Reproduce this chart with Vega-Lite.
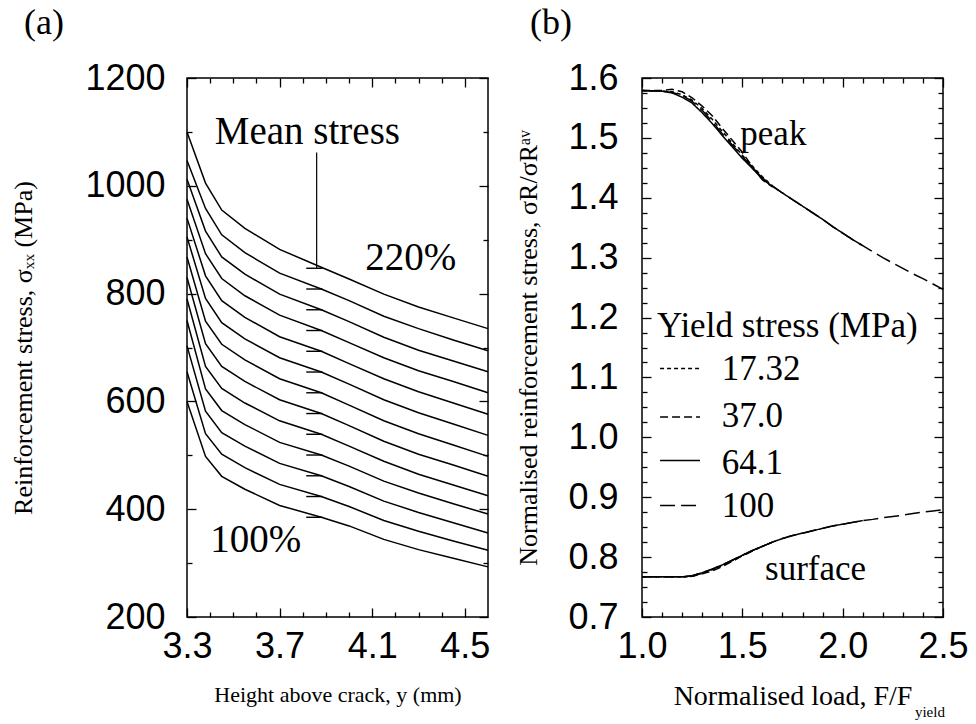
{
  "$schema": "https://vega.github.io/schema/vega-lite/v6.json",
  "background": "white",
  "padding": {"left": 10, "top": 4, "right": 0, "bottom": 0},
  "spacing": 154,
  "bounds": "flush",
  "datasets": {
    "stressProfiles": [
      {"load":100,"height":3.3,"stress":600},{"load":100,"height":3.38,"stress":498},{"load":100,"height":3.45,"stress":461},{"load":100,"height":3.55,"stress":437},{"load":100,"height":3.7,"stress":407},{"load":100,"height":3.88,"stress":385},{"load":100,"height":4.0,"stress":369},{"load":100,"height":4.15,"stress":344},{"load":100,"height":4.3,"stress":325},{"load":100,"height":4.45,"stress":309},{"load":100,"height":4.6,"stress":293},
      {"load":110,"height":3.3,"stress":655},{"load":110,"height":3.38,"stress":540},{"load":110,"height":3.45,"stress":502},{"load":110,"height":3.55,"stress":477},{"load":110,"height":3.7,"stress":446},{"load":110,"height":3.88,"stress":423.5},{"load":110,"height":4.0,"stress":405},{"load":110,"height":4.15,"stress":379},{"load":110,"height":4.3,"stress":359},{"load":110,"height":4.45,"stress":341},{"load":110,"height":4.6,"stress":324},
      {"load":120,"height":3.3,"stress":703},{"load":120,"height":3.38,"stress":582},{"load":120,"height":3.45,"stress":542},{"load":120,"height":3.55,"stress":517},{"load":120,"height":3.7,"stress":485},{"load":120,"height":3.88,"stress":462},{"load":120,"height":4.0,"stress":442},{"load":120,"height":4.15,"stress":415},{"load":120,"height":4.3,"stress":394},{"load":120,"height":4.45,"stress":375},{"load":120,"height":4.6,"stress":356},
      {"load":130,"height":3.3,"stress":750},{"load":130,"height":3.38,"stress":623},{"load":130,"height":3.45,"stress":583},{"load":130,"height":3.55,"stress":557},{"load":130,"height":3.7,"stress":524},{"load":130,"height":3.88,"stress":500.5},{"load":130,"height":4.0,"stress":480},{"load":130,"height":4.15,"stress":452},{"load":130,"height":4.3,"stress":430},{"load":130,"height":4.45,"stress":410},{"load":130,"height":4.6,"stress":391},
      {"load":140,"height":3.3,"stress":790},{"load":140,"height":3.38,"stress":665},{"load":140,"height":3.45,"stress":624},{"load":140,"height":3.55,"stress":597},{"load":140,"height":3.7,"stress":564},{"load":140,"height":3.88,"stress":539},{"load":140,"height":4.0,"stress":517},{"load":140,"height":4.15,"stress":489},{"load":140,"height":4.3,"stress":465},{"load":140,"height":4.45,"stress":445},{"load":140,"height":4.6,"stress":425},
      {"load":150,"height":3.3,"stress":830},{"load":150,"height":3.38,"stress":707},{"load":150,"height":3.45,"stress":665},{"load":150,"height":3.55,"stress":637},{"load":150,"height":3.7,"stress":603},{"load":150,"height":3.88,"stress":577.5},{"load":150,"height":4.0,"stress":555},{"load":150,"height":4.15,"stress":526},{"load":150,"height":4.3,"stress":502},{"load":150,"height":4.45,"stress":482},{"load":150,"height":4.6,"stress":461},
      {"load":160,"height":3.3,"stress":868},{"load":160,"height":3.38,"stress":749},{"load":160,"height":3.45,"stress":706},{"load":160,"height":3.55,"stress":677},{"load":160,"height":3.7,"stress":642},{"load":160,"height":3.88,"stress":616},{"load":160,"height":4.0,"stress":593},{"load":160,"height":4.15,"stress":564},{"load":160,"height":4.3,"stress":540},{"load":160,"height":4.45,"stress":519},{"load":160,"height":4.6,"stress":498},
      {"load":170,"height":3.3,"stress":905},{"load":170,"height":3.38,"stress":791},{"load":170,"height":3.45,"stress":746},{"load":170,"height":3.55,"stress":716},{"load":170,"height":3.7,"stress":681},{"load":170,"height":3.88,"stress":654.5},{"load":170,"height":4.0,"stress":632},{"load":170,"height":4.15,"stress":603},{"load":170,"height":4.3,"stress":579},{"load":170,"height":4.45,"stress":558},{"load":170,"height":4.6,"stress":537},
      {"load":180,"height":3.3,"stress":940},{"load":180,"height":3.38,"stress":833},{"load":180,"height":3.45,"stress":787},{"load":180,"height":3.55,"stress":756},{"load":180,"height":3.7,"stress":720},{"load":180,"height":3.88,"stress":693},{"load":180,"height":4.0,"stress":670},{"load":180,"height":4.15,"stress":642},{"load":180,"height":4.3,"stress":618},{"load":180,"height":4.45,"stress":597},{"load":180,"height":4.6,"stress":576},
      {"load":190,"height":3.3,"stress":975},{"load":190,"height":3.38,"stress":874},{"load":190,"height":3.45,"stress":828},{"load":190,"height":3.55,"stress":796},{"load":190,"height":3.7,"stress":760},{"load":190,"height":3.88,"stress":731.5},{"load":190,"height":4.0,"stress":709},{"load":190,"height":4.15,"stress":681},{"load":190,"height":4.3,"stress":657},{"load":190,"height":4.45,"stress":637},{"load":190,"height":4.6,"stress":616},
      {"load":200,"height":3.3,"stress":1012},{"load":200,"height":3.38,"stress":916},{"load":200,"height":3.45,"stress":868},{"load":200,"height":3.55,"stress":836},{"load":200,"height":3.7,"stress":799},{"load":200,"height":3.88,"stress":770},{"load":200,"height":4.0,"stress":748},{"load":200,"height":4.15,"stress":719},{"load":200,"height":4.3,"stress":695},{"load":200,"height":4.45,"stress":675},{"load":200,"height":4.6,"stress":655},
      {"load":210,"height":3.3,"stress":1047},{"load":210,"height":3.38,"stress":958},{"load":210,"height":3.45,"stress":909},{"load":210,"height":3.55,"stress":876},{"load":210,"height":3.7,"stress":838},{"load":210,"height":3.88,"stress":808.5},{"load":210,"height":4.0,"stress":787},{"load":210,"height":4.15,"stress":758},{"load":210,"height":4.3,"stress":735},{"load":210,"height":4.45,"stress":714},{"load":210,"height":4.6,"stress":694},
      {"load":220,"height":3.3,"stress":1100},{"load":220,"height":3.38,"stress":1005},{"load":220,"height":3.45,"stress":955},{"load":220,"height":3.55,"stress":921},{"load":220,"height":3.7,"stress":882},{"load":220,"height":3.88,"stress":849},{"load":220,"height":4.0,"stress":827},{"load":220,"height":4.15,"stress":799},{"load":220,"height":4.3,"stress":775},{"load":220,"height":4.45,"stress":755},{"load":220,"height":4.6,"stress":735}
    ],
    "meanStress": [
      {"load":100,"mean":385},{"load":110,"mean":423.5},{"load":120,"mean":462},{"load":130,"mean":500.5},{"load":140,"mean":539},{"load":150,"mean":577.5},{"load":160,"mean":616},{"load":170,"mean":654.5},{"load":180,"mean":693},{"load":190,"mean":731.5},{"load":200,"mean":770},{"load":210,"mean":808.5},{"load":220,"mean":847}
    ],
    "panelANotes": [
      {"label":"Mean stress","height":3.42,"stress":1077},
      {"label":"220%","height":4.07,"stress":843},
      {"label":"100%","height":3.4,"stress":320}
    ],
    "normalisedStress": [
      {"yield":"17.32","location":"peak","load":1.0,"ratio":1.579},{"yield":"17.32","location":"peak","load":1.1,"ratio":1.578},{"yield":"17.32","location":"peak","load":1.15,"ratio":1.577},{"yield":"17.32","location":"peak","load":1.2,"ratio":1.572},{"yield":"17.32","location":"peak","load":1.25,"ratio":1.563},{"yield":"17.32","location":"peak","load":1.3,"ratio":1.549},{"yield":"17.32","location":"peak","load":1.35,"ratio":1.531},{"yield":"17.32","location":"peak","load":1.4,"ratio":1.511},{"yield":"17.32","location":"peak","load":1.45,"ratio":1.491},{"yield":"17.32","location":"peak","load":1.5,"ratio":1.471},{"yield":"17.32","location":"peak","load":1.55,"ratio":1.453},{"yield":"17.32","location":"peak","load":1.6,"ratio":1.435},{"yield":"17.32","location":"peak","load":1.65,"ratio":1.42},
      {"yield":"37.0","location":"peak","load":1.0,"ratio":1.579},{"yield":"37.0","location":"peak","load":1.1,"ratio":1.579},{"yield":"37.0","location":"peak","load":1.15,"ratio":1.581},{"yield":"37.0","location":"peak","load":1.2,"ratio":1.577},{"yield":"37.0","location":"peak","load":1.25,"ratio":1.567},{"yield":"37.0","location":"peak","load":1.3,"ratio":1.553},{"yield":"37.0","location":"peak","load":1.35,"ratio":1.537},{"yield":"37.0","location":"peak","load":1.4,"ratio":1.516},{"yield":"37.0","location":"peak","load":1.45,"ratio":1.496},{"yield":"37.0","location":"peak","load":1.5,"ratio":1.476},{"yield":"37.0","location":"peak","load":1.55,"ratio":1.452},{"yield":"37.0","location":"peak","load":1.6,"ratio":1.43},{"yield":"37.0","location":"peak","load":1.65,"ratio":1.418},
      {"yield":"64.1","location":"peak","load":1.0,"ratio":1.579},{"yield":"64.1","location":"peak","load":1.1,"ratio":1.578},{"yield":"64.1","location":"peak","load":1.15,"ratio":1.575},{"yield":"64.1","location":"peak","load":1.2,"ratio":1.568},{"yield":"64.1","location":"peak","load":1.25,"ratio":1.558},{"yield":"64.1","location":"peak","load":1.3,"ratio":1.542},{"yield":"64.1","location":"peak","load":1.35,"ratio":1.524},{"yield":"64.1","location":"peak","load":1.4,"ratio":1.504},{"yield":"64.1","location":"peak","load":1.45,"ratio":1.485},{"yield":"64.1","location":"peak","load":1.5,"ratio":1.466},{"yield":"64.1","location":"peak","load":1.55,"ratio":1.449},{"yield":"64.1","location":"peak","load":1.6,"ratio":1.431},{"yield":"64.1","location":"peak","load":1.65,"ratio":1.419},{"yield":"64.1","location":"peak","load":1.7,"ratio":1.408},{"yield":"64.1","location":"peak","load":1.75,"ratio":1.397},{"yield":"64.1","location":"peak","load":1.8,"ratio":1.386},{"yield":"64.1","location":"peak","load":1.85,"ratio":1.375},{"yield":"64.1","location":"peak","load":1.9,"ratio":1.364},{"yield":"64.1","location":"peak","load":1.95,"ratio":1.352},{"yield":"64.1","location":"peak","load":2.0,"ratio":1.341},{"yield":"64.1","location":"peak","load":2.05,"ratio":1.33},{"yield":"64.1","location":"peak","load":2.1,"ratio":1.32},
      {"yield":"100","location":"peak","load":1.0,"ratio":1.579},{"yield":"100","location":"peak","load":1.1,"ratio":1.578},{"yield":"100","location":"peak","load":1.15,"ratio":1.576},{"yield":"100","location":"peak","load":1.2,"ratio":1.571},{"yield":"100","location":"peak","load":1.25,"ratio":1.561},{"yield":"100","location":"peak","load":1.3,"ratio":1.546},{"yield":"100","location":"peak","load":1.35,"ratio":1.527},{"yield":"100","location":"peak","load":1.4,"ratio":1.507},{"yield":"100","location":"peak","load":1.45,"ratio":1.488},{"yield":"100","location":"peak","load":1.5,"ratio":1.469},{"yield":"100","location":"peak","load":1.55,"ratio":1.451},{"yield":"100","location":"peak","load":1.6,"ratio":1.433},{"yield":"100","location":"peak","load":1.65,"ratio":1.42},{"yield":"100","location":"peak","load":1.7,"ratio":1.408},{"yield":"100","location":"peak","load":1.75,"ratio":1.397},{"yield":"100","location":"peak","load":1.8,"ratio":1.386},{"yield":"100","location":"peak","load":1.85,"ratio":1.375},{"yield":"100","location":"peak","load":1.9,"ratio":1.364},{"yield":"100","location":"peak","load":1.95,"ratio":1.352},{"yield":"100","location":"peak","load":2.0,"ratio":1.341},{"yield":"100","location":"peak","load":2.05,"ratio":1.33},{"yield":"100","location":"peak","load":2.1,"ratio":1.32},{"yield":"100","location":"peak","load":2.15,"ratio":1.31},{"yield":"100","location":"peak","load":2.2,"ratio":1.3},{"yield":"100","location":"peak","load":2.25,"ratio":1.291},{"yield":"100","location":"peak","load":2.3,"ratio":1.282},{"yield":"100","location":"peak","load":2.35,"ratio":1.273},{"yield":"100","location":"peak","load":2.4,"ratio":1.265},{"yield":"100","location":"peak","load":2.45,"ratio":1.256},{"yield":"100","location":"peak","load":2.5,"ratio":1.247},
      {"yield":"17.32","location":"surface","load":1.0,"ratio":0.767},{"yield":"17.32","location":"surface","load":1.1,"ratio":0.767},{"yield":"17.32","location":"surface","load":1.2,"ratio":0.767},{"yield":"17.32","location":"surface","load":1.25,"ratio":0.768},{"yield":"17.32","location":"surface","load":1.3,"ratio":0.773},{"yield":"17.32","location":"surface","load":1.35,"ratio":0.779},{"yield":"17.32","location":"surface","load":1.4,"ratio":0.786},{"yield":"17.32","location":"surface","load":1.45,"ratio":0.794},{"yield":"17.32","location":"surface","load":1.5,"ratio":0.803},{"yield":"17.32","location":"surface","load":1.55,"ratio":0.811},{"yield":"17.32","location":"surface","load":1.6,"ratio":0.818},{"yield":"17.32","location":"surface","load":1.65,"ratio":0.825},
      {"yield":"37.0","location":"surface","load":1.0,"ratio":0.767},{"yield":"37.0","location":"surface","load":1.1,"ratio":0.767},{"yield":"37.0","location":"surface","load":1.2,"ratio":0.767},{"yield":"37.0","location":"surface","load":1.25,"ratio":0.768},{"yield":"37.0","location":"surface","load":1.3,"ratio":0.772},{"yield":"37.0","location":"surface","load":1.35,"ratio":0.777},{"yield":"37.0","location":"surface","load":1.4,"ratio":0.784},{"yield":"37.0","location":"surface","load":1.45,"ratio":0.793},{"yield":"37.0","location":"surface","load":1.5,"ratio":0.802},{"yield":"37.0","location":"surface","load":1.55,"ratio":0.81},{"yield":"37.0","location":"surface","load":1.6,"ratio":0.818},{"yield":"37.0","location":"surface","load":1.65,"ratio":0.825},
      {"yield":"64.1","location":"surface","load":1.0,"ratio":0.767},{"yield":"64.1","location":"surface","load":1.1,"ratio":0.767},{"yield":"64.1","location":"surface","load":1.2,"ratio":0.767},{"yield":"64.1","location":"surface","load":1.25,"ratio":0.769},{"yield":"64.1","location":"surface","load":1.3,"ratio":0.774},{"yield":"64.1","location":"surface","load":1.35,"ratio":0.78},{"yield":"64.1","location":"surface","load":1.4,"ratio":0.787},{"yield":"64.1","location":"surface","load":1.45,"ratio":0.795},{"yield":"64.1","location":"surface","load":1.5,"ratio":0.803},{"yield":"64.1","location":"surface","load":1.55,"ratio":0.811},{"yield":"64.1","location":"surface","load":1.6,"ratio":0.818},{"yield":"64.1","location":"surface","load":1.65,"ratio":0.825},{"yield":"64.1","location":"surface","load":1.7,"ratio":0.831},{"yield":"64.1","location":"surface","load":1.75,"ratio":0.836},{"yield":"64.1","location":"surface","load":1.8,"ratio":0.84},{"yield":"64.1","location":"surface","load":1.85,"ratio":0.844},{"yield":"64.1","location":"surface","load":1.9,"ratio":0.848},{"yield":"64.1","location":"surface","load":1.95,"ratio":0.852},{"yield":"64.1","location":"surface","load":2.0,"ratio":0.855},{"yield":"64.1","location":"surface","load":2.05,"ratio":0.858},{"yield":"64.1","location":"surface","load":2.1,"ratio":0.861},
      {"yield":"100","location":"surface","load":1.0,"ratio":0.767},{"yield":"100","location":"surface","load":1.1,"ratio":0.767},{"yield":"100","location":"surface","load":1.2,"ratio":0.767},{"yield":"100","location":"surface","load":1.25,"ratio":0.769},{"yield":"100","location":"surface","load":1.3,"ratio":0.774},{"yield":"100","location":"surface","load":1.35,"ratio":0.78},{"yield":"100","location":"surface","load":1.4,"ratio":0.787},{"yield":"100","location":"surface","load":1.45,"ratio":0.795},{"yield":"100","location":"surface","load":1.5,"ratio":0.803},{"yield":"100","location":"surface","load":1.55,"ratio":0.811},{"yield":"100","location":"surface","load":1.6,"ratio":0.818},{"yield":"100","location":"surface","load":1.65,"ratio":0.825},{"yield":"100","location":"surface","load":1.7,"ratio":0.831},{"yield":"100","location":"surface","load":1.75,"ratio":0.836},{"yield":"100","location":"surface","load":1.8,"ratio":0.84},{"yield":"100","location":"surface","load":1.85,"ratio":0.844},{"yield":"100","location":"surface","load":1.9,"ratio":0.848},{"yield":"100","location":"surface","load":1.95,"ratio":0.852},{"yield":"100","location":"surface","load":2.0,"ratio":0.855},{"yield":"100","location":"surface","load":2.05,"ratio":0.858},{"yield":"100","location":"surface","load":2.1,"ratio":0.861},{"yield":"100","location":"surface","load":2.15,"ratio":0.863},{"yield":"100","location":"surface","load":2.2,"ratio":0.866},{"yield":"100","location":"surface","load":2.25,"ratio":0.868},{"yield":"100","location":"surface","load":2.3,"ratio":0.87},{"yield":"100","location":"surface","load":2.35,"ratio":0.873},{"yield":"100","location":"surface","load":2.4,"ratio":0.875},{"yield":"100","location":"surface","load":2.45,"ratio":0.877},{"yield":"100","location":"surface","load":2.5,"ratio":0.879}
    ],
    "legendKey": [
      {"yield":"17.32","ratio":1.115},
      {"yield":"37.0","ratio":1.034},
      {"yield":"64.1","ratio":0.9615},
      {"yield":"100","ratio":0.886}
    ],
    "panelBNotes": [
      {"label":"Yield stress (MPa)","load":1.075,"ratio":1.168},
      {"label":"17.32","load":1.397,"ratio":1.095},
      {"label":"37.0","load":1.397,"ratio":1.017},
      {"label":"64.1","load":1.397,"ratio":0.939},
      {"label":"100","load":1.397,"ratio":0.867},
      {"label":"peak","load":1.49,"ratio":1.488},
      {"label":"surface","load":1.613,"ratio":0.761}
    ],
    "subscripts": [
      {"label":"yield","load":2.36,"ratio":0.533}
    ]
  },
  "hconcat": [
    {
      "width": 301,
      "height": 539,
      "title": {"text": "(a)", "dx": -163, "offset": -10, "baseline": "alphabetic"},
      "resolve": {"axis": {"x": "independent", "y": "independent"}},
      "layer": [
        {
          "data": {"name": "stressProfiles"},
          "mark": {"type": "line", "color": "black", "strokeWidth": 1.5},
          "encoding": {
            "x": {"field": "height", "type": "quantitative", "scale": {"domain": [3.3, 4.6], "nice": false, "zero": false},
                  "axis": {"orient": "bottom", "values": [3.3, 3.7, 4.1, 4.5], "format": ".1f", "tickSize": -9, "labelPadding": 21, "title": "Height above crack, y (mm)", "titleFontSize": 22, "titlePadding": 20}},
            "y": {"field": "stress", "type": "quantitative", "scale": {"domain": [200, 1200], "nice": false, "zero": false},
                  "axis": {"orient": "left", "values": [200, 400, 600, 800, 1000, 1200], "format": "d", "tickSize": -9, "labelPadding": 31, "title": "Reinforcement stress, σₓₓ (MPa)", "titlePadding": 48}},
            "detail": {"field": "load", "type": "nominal"},
            "order": {"field": "height", "type": "quantitative"}
          }
        },
        {
          "data": {"name": "meanStress"},
          "mark": {"type": "rule", "color": "black", "strokeWidth": 1.4},
          "encoding": {
            "x": {"datum": 3.815, "type": "quantitative", "scale": {"domain": [3.3, 4.6], "nice": false, "zero": false},
                  "axis": {"orient": "bottom", "values": [3.4, 3.5, 3.6, 3.8, 3.9, 4.0, 4.2, 4.3, 4.4], "labels": false, "tickSize": -5, "title": null}},
            "x2": {"datum": 3.885},
            "y": {"field": "mean", "type": "quantitative", "scale": {"domain": [200, 1200], "nice": false, "zero": false},
                  "axis": {"orient": "left", "values": [300, 500, 700, 900, 1100], "labels": false, "tickSize": -5, "title": null}}
          }
        },
        {
          "data": {"name": "meanStress"},
          "transform": [{"filter": "datum.load === 220"}],
          "mark": {"type": "rule", "color": "black", "strokeWidth": 1.2},
          "encoding": {
            "x": {"datum": 3.86, "type": "quantitative", "scale": {"domain": [3.3, 4.6], "nice": false, "zero": false},
                  "axis": {"orient": "top", "values": [3.3, 3.7, 4.1, 4.5], "labels": false, "tickSize": -9, "title": null}},
            "y": {"field": "mean", "type": "quantitative", "scale": {"domain": [200, 1200], "nice": false, "zero": false},
                  "axis": {"orient": "right", "values": [200, 400, 600, 800, 1000, 1200], "labels": false, "tickSize": -9, "title": null}},
            "y2": {"datum": 1062}
          }
        },
        {
          "data": {"name": "panelANotes"},
          "mark": {"type": "text", "font": "Liberation Serif", "fontSize": 39, "align": "left", "baseline": "alphabetic", "color": "black"},
          "encoding": {
            "x": {"field": "height", "type": "quantitative", "scale": {"domain": [3.3, 4.6], "nice": false, "zero": false},
                  "axis": {"orient": "top", "values": [3.4, 3.5, 3.6, 3.8, 3.9, 4.0, 4.2, 4.3, 4.4], "labels": false, "tickSize": -5, "title": null}},
            "y": {"field": "stress", "type": "quantitative", "scale": {"domain": [200, 1200], "nice": false, "zero": false},
                  "axis": {"orient": "right", "values": [300, 500, 700, 900, 1100], "labels": false, "tickSize": -5, "title": null}},
            "text": {"field": "label"}
          }
        }
      ]
    },
    {
      "width": 301,
      "height": 539,
      "title": {"text": "(b)", "dx": -112, "offset": -10, "baseline": "alphabetic"},
      "resolve": {"axis": {"x": "independent", "y": "independent"}},
      "layer": [
        {
          "data": {"name": "normalisedStress"},
          "mark": {"type": "line", "color": "black", "strokeWidth": 1.5, "strokeCap": "butt"},
          "encoding": {
            "x": {"field": "load", "type": "quantitative", "scale": {"domain": [1.0, 2.5], "nice": false, "zero": false},
                  "axis": {"orient": "bottom", "values": [1.0, 1.5, 2.0, 2.5], "format": ".1f", "tickSize": -9, "labelPadding": 21, "title": "Normalised load, F/F", "titleFontSize": 28, "titlePadding": 18}},
            "y": {"field": "ratio", "type": "quantitative", "scale": {"domain": [0.7, 1.6], "nice": false, "zero": false},
                  "axis": {"orient": "left", "values": [0.7, 0.8, 0.9, 1.0, 1.1, 1.2, 1.3, 1.4, 1.5, 1.6], "format": ".1f", "tickSize": -9, "labelPadding": 33, "title": "Normalised reinforcement stress, σR/σRᵃᵛ", "titlePadding": 26}},
            "strokeDash": {"field": "yield", "type": "nominal", "scale": {"domain": ["17.32", "37.0", "64.1", "100"], "range": [[4, 3], [8, 4], [1, 0], [15, 6]]}, "legend": null},
            "detail": {"field": "location", "type": "nominal"},
            "order": {"field": "load", "type": "quantitative"}
          }
        },
        {
          "data": {"name": "legendKey"},
          "mark": {"type": "rule", "color": "black", "strokeWidth": 1.5, "strokeCap": "butt"},
          "encoding": {
            "x": {"datum": 1.09, "type": "quantitative", "scale": {"domain": [1.0, 2.5], "nice": false, "zero": false},
                  "axis": {"orient": "bottom", "values": [1.1, 1.2, 1.3, 1.4, 1.6, 1.7, 1.8, 1.9, 2.1, 2.2, 2.3, 2.4], "labels": false, "tickSize": -5, "title": null}},
            "x2": {"datum": 1.289},
            "y": {"field": "ratio", "type": "quantitative", "scale": {"domain": [0.7, 1.6], "nice": false, "zero": false},
                  "axis": {"orient": "left", "values": [0.725, 0.75, 0.775, 0.825, 0.85, 0.875, 0.925, 0.95, 0.975, 1.025, 1.05, 1.075, 1.125, 1.15, 1.175, 1.225, 1.25, 1.275, 1.325, 1.35, 1.375, 1.425, 1.45, 1.475, 1.525, 1.55, 1.575], "labels": false, "tickSize": -5, "title": null}},
            "strokeDash": {"field": "yield", "type": "nominal", "scale": {"domain": ["17.32", "37.0", "64.1", "100"], "range": [[4, 3], [8, 4], [1, 0], [15, 6]]}, "legend": null}
          }
        },
        {
          "data": {"name": "panelBNotes"},
          "mark": {"type": "text", "font": "Liberation Serif", "fontSize": 35, "align": "left", "baseline": "alphabetic", "color": "black"},
          "encoding": {
            "x": {"field": "load", "type": "quantitative", "scale": {"domain": [1.0, 2.5], "nice": false, "zero": false},
                  "axis": {"orient": "top", "values": [1.0, 1.5, 2.0, 2.5], "labels": false, "tickSize": -9, "title": null}},
            "y": {"field": "ratio", "type": "quantitative", "scale": {"domain": [0.7, 1.6], "nice": false, "zero": false},
                  "axis": {"orient": "right", "values": [0.7, 0.8, 0.9, 1.0, 1.1, 1.2, 1.3, 1.4, 1.5, 1.6], "labels": false, "tickSize": -9, "title": null}},
            "text": {"field": "label"}
          }
        },
        {
          "data": {"name": "subscripts"},
          "mark": {"type": "text", "font": "Liberation Serif", "fontSize": 15, "align": "left", "baseline": "alphabetic", "color": "black"},
          "encoding": {
            "x": {"field": "load", "type": "quantitative", "scale": {"domain": [1.0, 2.5], "nice": false, "zero": false},
                  "axis": {"orient": "top", "values": [1.1, 1.2, 1.3, 1.4, 1.6, 1.7, 1.8, 1.9, 2.1, 2.2, 2.3, 2.4], "labels": false, "tickSize": -5, "title": null}},
            "y": {"field": "ratio", "type": "quantitative", "scale": {"domain": [0.7, 1.6], "nice": false, "zero": false},
                  "axis": {"orient": "right", "values": [0.725, 0.75, 0.775, 0.825, 0.85, 0.875, 0.925, 0.95, 0.975, 1.025, 1.05, 1.075, 1.125, 1.15, 1.175, 1.225, 1.25, 1.275, 1.325, 1.35, 1.375, 1.425, 1.45, 1.475, 1.525, 1.55, 1.575], "labels": false, "tickSize": -5, "title": null}},
            "text": {"field": "label"}
          }
        }
      ]
    }
  ],
  "config": {
    "view": {"stroke": "black", "strokeWidth": 1.5},
    "axis": {"domain": false, "grid": false, "tickColor": "black", "tickWidth": 1.3, "labelFont": "Liberation Sans", "labelFontSize": 36, "labelColor": "black", "labelFlush": false, "labelOverlap": false, "titleFont": "Liberation Serif", "titleFontSize": 26, "titleFontWeight": "normal", "titleColor": "black"},
    "title": {"font": "Liberation Serif", "fontSize": 36, "fontWeight": "normal", "color": "black", "anchor": "start", "frame": "group"}
  }
}
